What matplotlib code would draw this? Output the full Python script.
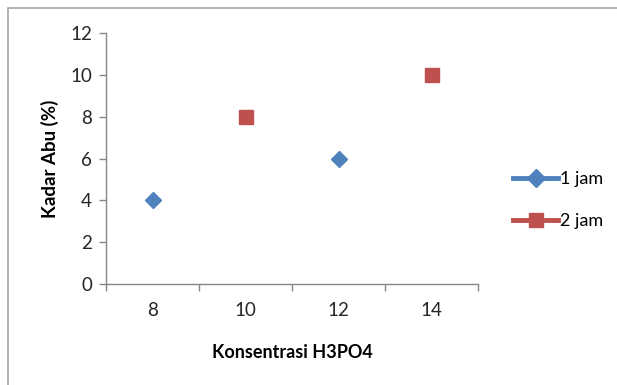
import matplotlib
matplotlib.use("Agg")
import matplotlib.pyplot as plt
from matplotlib.lines import Line2D
from matplotlib.patches import Rectangle

categories = ["8", "10", "12", "14"]
series_1jam_idx = [0, 2]
series_1jam_val = [4, 6]
series_2jam_idx = [1, 3]
series_2jam_val = [8, 10]
y_ticks = [0, 2, 4, 6, 8, 10, 12]

plt.rcParams['font.family'] = ['Lato', 'DejaVu Sans']

fig = plt.figure(figsize=(6.17, 3.85), dpi=100)
ax = fig.add_axes([106/617, 1-284/385, 372/617, 251/385])

blue = '#4F81BD'
red = '#C0504D'
axis_col = '#868686'

ax.plot(series_1jam_idx, series_1jam_val, linestyle='none', marker='D',
        color=blue, markersize=8.5, clip_on=False)
ax.plot(series_2jam_idx, series_2jam_val, linestyle='none', marker='s',
        color=red, markersize=10, clip_on=False)

ax.set_xlim(-0.5, len(categories) - 0.5)
ax.set_ylim(0, 12)
ax.set_yticks(y_ticks)
ax.set_yticklabels([str(v) for v in y_ticks], fontsize=13.5, color='#262626')
ax.set_xticks([i - 0.5 for i in range(len(categories) + 1)])
ax.set_xticklabels([''] * (len(categories) + 1))
ax.set_xticks(range(len(categories)), minor=True)
ax.set_xticklabels(categories, minor=True, fontsize=13.5, color='#262626')
ax.tick_params(axis='x', which='minor', length=0, pad=13)
ax.tick_params(axis='x', which='major', length=5, color=axis_col, width=1)
ax.tick_params(axis='y', length=5, color=axis_col, width=1, pad=5)

for s in ['top', 'right']:
    ax.spines[s].set_visible(False)
for s in ['left', 'bottom']:
    ax.spines[s].set_color(axis_col)
    ax.spines[s].set_linewidth(1)

ax.set_xlabel('Konsentrasi H3PO4', fontsize=13, fontweight='bold', labelpad=18)
ax.set_ylabel('Kadar Abu (%)', fontsize=13.5, fontweight='bold', labelpad=8)

handles = [Line2D([0], [0], color=blue, lw=3.5, marker='D', markersize=9),
           Line2D([0], [0], color=red, lw=3.5, marker='s', markersize=10)]
fig.legend(handles, ['1 jam', '2 jam'], loc='center left',
           bbox_to_anchor=(497/617, 1-200/385), frameon=False, fontsize=13,
           handlelength=2.5, handletextpad=0.1, labelspacing=1.45,
           labelcolor='#000000')

fig.patches.append(Rectangle((8/617, -0.1), 1.2, 1-8/385+0.1, transform=fig.transFigure,
                             fill=False, edgecolor='#A6A6A6', lw=1.2))

fig.savefig('out.png', dpi=100)
